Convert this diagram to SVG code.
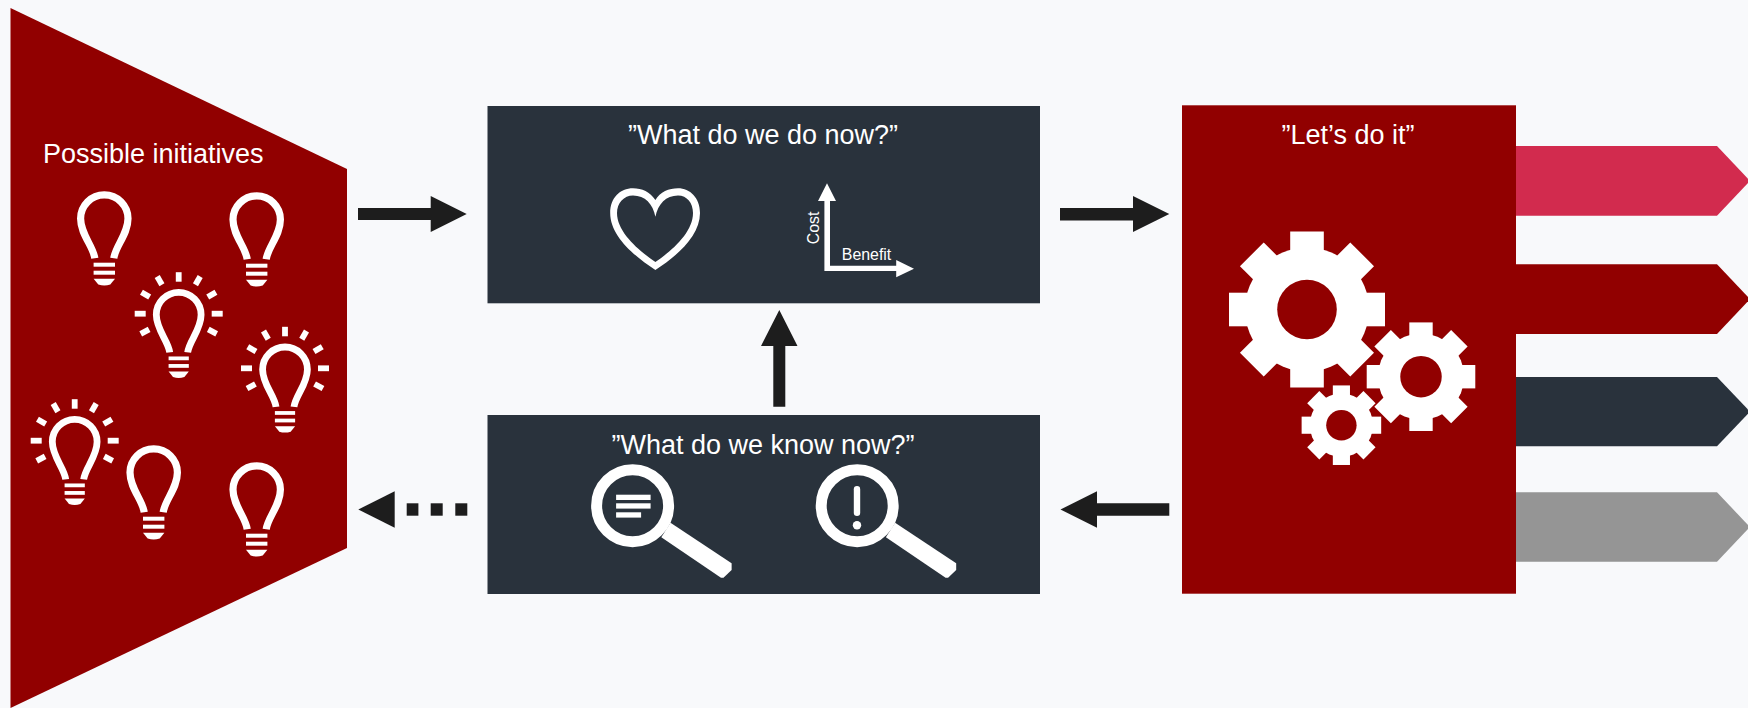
<svg xmlns="http://www.w3.org/2000/svg" width="1748" height="708" viewBox="0 0 1748 708">
<style>
text{font-family:"Liberation Sans",Arial,sans-serif;fill:#fff}
.t{font-size:27px}
.s{font-size:15.9px}
.red{fill:#910000}
.dark{fill:#29323c}
.arr{fill:#1d1d1d}
.line{fill:none;stroke:#fff;stroke-width:7.200}
.ring{fill:none;stroke:#fff;stroke-width:11}
.w{fill:#fff}
</style>
<defs>
<g id="bulb">
<path class="line" d="M-9.500 67 C-11 55 -23.700 43 -23.700 27.300 A23.700 23.700 0 0 1 23.700 27.300 C23.700 43 11 55 9.500 67"/>
<rect class="w" x="-10.700" y="71.400" width="21.400" height="4"/>
<rect class="w" x="-10.700" y="79.400" width="21.400" height="4"/>
<path class="w" d="M-10.700 87.400H10.700L6 93.200Q0 95.200 -6 93.200Z"/>
</g>
<g id="rays">
<rect class="w" x="-2.900" y="-41.500" width="5.800" height="9.500"/>
<rect class="w" x="-2.900" y="-43" width="5.800" height="9.500" transform="rotate(-30)"/>
<rect class="w" x="-2.900" y="-43" width="5.800" height="9.500" transform="rotate(30)"/>
<rect class="w" x="-2.900" y="-43" width="5.800" height="9.500" transform="rotate(-60)"/>
<rect class="w" x="-2.900" y="-43" width="5.800" height="9.500" transform="rotate(60)"/>
<rect class="w" x="-2.900" y="-44" width="5.800" height="11" transform="rotate(-90)"/>
<rect class="w" x="-2.900" y="-44" width="5.800" height="11" transform="rotate(90)"/>
<rect class="w" x="-2.900" y="-43" width="5.800" height="9.500" transform="rotate(-118)"/>
<rect class="w" x="-2.900" y="-43" width="5.800" height="9.500" transform="rotate(118)"/>
</g>
<g id="lit">
<use href="#bulb" transform="translate(0,-24.700) scale(.945)"/>
<use href="#rays"/>
</g>
<g id="gear">
<circle class="w" r="62"/>
<rect class="w" x="-16.800" y="-78" width="33.600" height="156"/>
<rect class="w" x="-16.800" y="-78" width="33.600" height="156" transform="rotate(45)"/>
<rect class="w" x="-16.800" y="-78" width="33.600" height="156" transform="rotate(90)"/>
<rect class="w" x="-16.800" y="-78" width="33.600" height="156" transform="rotate(135)"/>
<circle class="red" r="29.800"/>
</g>
<g id="lens">
<circle class="ring" r="36"/>
<path class="w" d="M37.900 17 L99 57.600V64.300L90.900 72H88.400L28.700 31.600Z"/>
</g>
</defs>
<rect width="1748" height="708" fill="#f8f9fb"/>
<g id="connectors">
<path id="c-funnel-now" class="arr" d="M358 208H430.700V196L466.700 214L430.700 232V220H358Z"/>
<path id="c-know-funnel-head" class="arr" d="M358.300 509.500L394.700 491.300V527.700Z"/>
<rect class="arr" x="406.700" y="503.300" width="11.700" height="12.400"/>
<rect class="arr" x="430.700" y="503.300" width="12" height="12.400"/>
<rect class="arr" x="455.300" y="503.300" width="12" height="12.400"/>
<path id="c-now-do" class="arr" d="M1060 208H1133V196L1169.300 214L1133 232V220.500H1060Z"/>
<path id="c-do-know" class="arr" d="M1169.300 503.300H1097V491.200L1060.500 509.500L1097 527.700V515.700H1169.300Z"/>
<path id="c-know-now" class="arr" d="M773.300 406.700V346H761L779.300 310L797.500 346H785.300V406.700Z"/>
</g>
<g id="funnel">
<path class="red" d="M10.500 8L347 169V548L10.500 708Z"/>
<text class="t" x="43" y="163.300">Possible initiatives</text>
<use href="#bulb" x="104.300" y="191.300"/>
<use href="#bulb" x="256.700" y="192.300"/>
<use href="#bulb" x="153.700" y="445.300"/>
<use href="#bulb" x="256.700" y="462.300"/>
<use href="#lit" x="178.700" y="313.700"/>
<use href="#lit" x="285" y="368.300"/>
<use href="#lit" x="74.700" y="440.700"/>
</g>
<g id="now">
<rect class="dark" x="487.500" y="106" width="552.500" height="197.300"/>
<text class="t" x="763" y="143.700" text-anchor="middle">”What do we do now?”</text>
<path class="w" fill-rule="evenodd" d="M655.400 200 C650 192 642 188.300 633 188.300 C620 188.300 610.200 198 610.200 213 C610.200 236 634 256 655.400 270 C677 256 700 236 700 213 C700 198 690 188.300 678 188.300 C669 188.300 660 192 655.400 200Z M655.400 216.700 C653 204 645 195.500 633 195.500 C624 195.500 617 203 617 213 C617 232 638 250 655.400 262 C673 250 693 232 693 213 C693 203 687 195.500 678 195.500 C666 195.500 658 204 655.400 216.700Z"/>
<path class="w" d="M827 183.300L836 201H830V265.700H896.200V260L914 268.700L896.200 277.300V271H824.400V201H818Z"/>
<text class="s" transform="translate(818.500,244.300) rotate(-90)">Cost</text>
<text class="s" x="841.800" y="260.300">Benefit</text>
</g>
<g id="know">
<rect class="dark" x="487.500" y="415" width="552.500" height="179"/>
<text class="t" x="763" y="453.700" text-anchor="middle">”What do we know now?”</text>
<use href="#lens" x="632.600" y="505.700"/>
<rect class="w" x="616.100" y="494.700" width="34.500" height="5.300"/>
<rect class="w" x="616.100" y="503.300" width="34.500" height="5.300"/>
<rect class="w" x="616.100" y="512.300" width="25" height="5.300"/>
<use href="#lens" x="857.200" y="505.700"/>
<rect class="w" x="853.800" y="486" width="6.400" height="30" rx="3.200"/>
<circle class="w" cx="857" cy="525.300" r="4.200"/>
</g>
<g id="do">
<rect class="red" x="1182" y="105.300" width="334" height="488.400"/>
<text class="t" x="1348" y="143.700" text-anchor="middle">”Let’s do it”</text>
<use href="#gear" x="1307" y="309.500"/>
<use href="#gear" transform="translate(1421,376.700) scale(.696)"/>
<use href="#gear" transform="translate(1341.400,425.200) scale(.51)"/>
</g>
<g id="out-1"><path fill="#d22b4e" d="M1516 146H1717L1750 180.800L1717 215.700H1516Z"/></g>
<g id="out-2"><path class="red" d="M1516 264.300H1717L1750 299.200L1717 334H1516Z"/></g>
<g id="out-3"><path class="dark" d="M1516 377H1717L1750 411.700L1717 446.300H1516Z"/></g>
<g id="out-4"><path fill="#959595" d="M1516 492.300H1717L1750 527L1717 561.700H1516Z"/></g>
</svg>
